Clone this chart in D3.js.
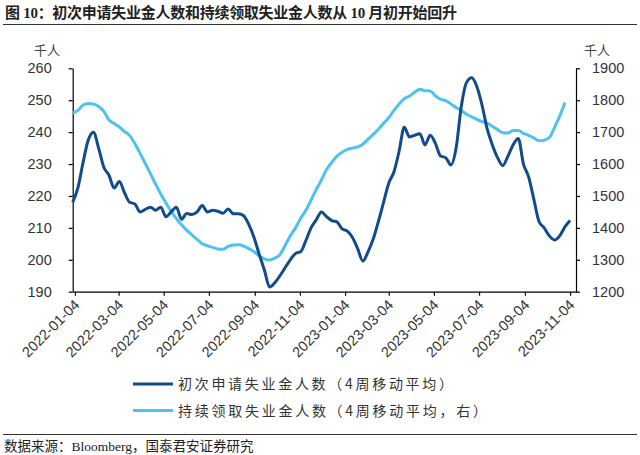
<!DOCTYPE html>
<html>
<head>
<meta charset="utf-8">
<script src="https://cdn.jsdelivr.net/npm/d3@7"></script>
<style>
  body { margin: 0; background: #fff; }
  svg { display: block; }
</style>
</head>
<body>
<div id="chart"></div>
<script>
// weekly data, first week ending 2022-01-01
const startWeek = "2022-01-01";
// initial claims, 4-week average (thousand, left axis)
const initialClaims = [
  218, 222.5, 230.5, 237.5, 240, 235, 229, 226.5, 222.5, 224.5,
  221, 218, 217.5, 215, 215.8, 216.5, 215.5, 216.5, 213.5, 215,
  216.5, 212.7, 214.5, 214.2, 215, 217, 215, 215.5, 215.2, 214.6,
  215.9, 214.4, 214.4, 213.8, 211, 207, 201.7, 196.8, 191.5, 192.8,
  195, 197.5, 200, 202, 202.5, 206, 210, 212.5, 215, 213.5,
  212.3, 211.9, 209.7, 209, 207, 203.5, 199.6, 202.5, 206.5, 212,
  218, 224, 227.5, 234, 241.5, 238.5, 239, 239.5, 236, 239,
  236.5, 232.5, 232, 229.7, 235, 248, 255.5, 257, 254.3, 248.5,
  241, 236, 232, 229.5, 232.5, 236, 238, 230, 226, 219,
  212, 210, 207.5, 206.2, 207.5, 210.3, 212.3
];
// continuing claims, 4-week average (thousand, right axis)
const continuingClaims = [
  1760, 1768, 1785, 1790, 1788, 1780, 1765, 1738, 1727, 1716,
  1702, 1689, 1664, 1634, 1602, 1570, 1537, 1506, 1478, 1452,
  1429, 1410, 1393, 1378, 1364, 1350, 1344, 1339, 1334, 1333,
  1342, 1346, 1347, 1343, 1335, 1325, 1312, 1303, 1299, 1305,
  1316, 1345, 1375, 1400, 1430, 1455, 1487, 1520, 1550, 1583,
  1605, 1625, 1637, 1646, 1650, 1654, 1662, 1678, 1693, 1709,
  1728, 1745, 1768, 1788, 1805, 1813, 1825, 1834, 1830, 1829,
  1814, 1803, 1799, 1788, 1777, 1768, 1756, 1748, 1740, 1733,
  1728, 1718, 1708, 1698, 1697, 1705, 1705, 1696, 1690, 1682,
  1673, 1675, 1683, 1715, 1750, 1793
];
const xTickLabels = [
  "2022-01-04", "2022-03-04", "2022-05-04", "2022-07-04", "2022-09-04", "2022-11-04",
  "2023-01-04", "2023-03-04", "2023-05-04", "2023-07-04", "2023-09-04", "2023-11-04"
];
const leftTicks = [190, 200, 210, 220, 230, 240, 250, 260];
const rightTicks = [1200, 1300, 1400, 1500, 1600, 1700, 1800, 1900];
const seriesNames = ["初次申请失业金人数（4周移动平均）", "持续领取失业金人数（4周移动平均，右）"];
const titleText = "图 10：初次申请失业金人数和持续领取失业金人数从 10 月初开始回升";
const sourceText = "数据来源：Bloomberg，国泰君安证券研究";

const W = 640, H = 455;
const darkBlue = "#124b8c";
const lightBlue = "#4dc2f0";
const textColor = "#333";
const cjk = "'Noto Sans CJK SC', sans-serif";
const latin = "'Liberation Sans', Arial, sans-serif";

const t0 = d3.utcParse("%Y-%m-%d")(startWeek);
const week = i => d3.utcDay.offset(t0, 7 * i);
const dark = initialClaims.map((v, i) => ({date: week(i), v}));
const light = continuingClaims.map((v, i) => ({date: week(i), v}));

const plot = {left: 72.7, right: 576, top: 68.3, bottom: 291.7};

const x = d3.scaleUtc()
  .domain([t0, d3.utcDay.offset(t0, 680)])
  .range([plot.left, plot.right]);
const yL = d3.scaleLinear().domain([190, 260]).range([plot.bottom, plot.top]);
const yR = d3.scaleLinear().domain([1200, 1900]).range([plot.bottom, plot.top]);

const svg = d3.select("#chart").append("svg")
  .attr("width", W)
  .attr("height", H)
  .attr("viewBox", [0, 0, W, H]);

// title + rules
svg.append("text")
  .attr("x", 5).attr("y", 18)
  .attr("font-family", "'Liberation Serif', " + cjk)
  .attr("font-weight", "bold")
  .attr("font-size", 15)
  .attr("fill", "#222")
  .attr("textLength", 452)
  .text(titleText);

svg.append("line")
  .attr("x1", 3).attr("x2", 637).attr("y1", 24.5).attr("y2", 24.5)
  .attr("stroke", "#333").attr("stroke-width", 1);

svg.append("line")
  .attr("x1", 3).attr("x2", 637).attr("y1", 434.5).attr("y2", 434.5)
  .attr("stroke", "#333").attr("stroke-width", 1);

svg.append("text")
  .attr("x", 4).attr("y", 451)
  .attr("font-family", "'Liberation Serif', " + cjk)
  .attr("font-size", 13.5)
  .attr("fill", "#222")
  .text(sourceText);

// axes
const styleAxis = g => {
  g.selectAll("path.domain").attr("stroke", "#000").attr("stroke-width", 1.2);
  g.selectAll(".tick line").attr("stroke", "#000").attr("stroke-width", 1.2);
  g.selectAll(".tick text")
    .attr("font-family", latin)
    .attr("font-size", 14.5)
    .attr("fill", textColor);
};

svg.append("g")
  .attr("transform", `translate(${plot.left},0)`)
  .call(d3.axisLeft(yL).tickValues(leftTicks).tickFormat(d3.format("d"))
    .tickSize(4).tickSizeOuter(0).tickPadding(17))
  .call(styleAxis);

svg.append("g")
  .attr("transform", `translate(${plot.right},0)`)
  .call(d3.axisRight(yR).tickValues(rightTicks).tickFormat(d3.format("d"))
    .tickSize(4).tickSizeOuter(0).tickPadding(12))
  .call(styleAxis);

const parseTick = d3.utcParse("%Y-%m-%d");
svg.append("g")
  .attr("transform", `translate(0,${plot.bottom})`)
  .call(d3.axisBottom(x)
    .tickValues(xTickLabels.map(parseTick))
    .tickFormat(d3.utcFormat("%Y-%m-%d"))
    .tickSize(4).tickSizeOuter(0))
  .call(styleAxis)
  .call(g => g.selectAll(".tick text")
    .attr("text-anchor", "end")
    .attr("dy", null)
    .attr("y", 0)
    .attr("transform", "translate(5,14) rotate(-45)"));

// unit labels
[[47, "千人"], [597, "千人"]].forEach(([cx, t]) => {
  svg.append("text")
    .attr("x", cx).attr("y", 55)
    .attr("text-anchor", "middle")
    .attr("font-family", cjk)
    .attr("font-size", 13)
    .attr("fill", "#444")
    .text(t);
});

// lines
const lineL = d3.line().x(d => x(d.date)).y(d => yL(d.v)).curve(d3.curveMonotoneX);
const lineR = d3.line().x(d => x(d.date)).y(d => yR(d.v)).curve(d3.curveMonotoneX);

svg.append("path")
  .datum(light)
  .attr("fill", "none")
  .attr("stroke", lightBlue)
  .attr("stroke-width", 3)
  .attr("stroke-linejoin", "round")
  .attr("d", lineR);

svg.append("path")
  .datum(dark)
  .attr("fill", "none")
  .attr("stroke", darkBlue)
  .attr("stroke-width", 3)
  .attr("stroke-linejoin", "round")
  .attr("d", lineL);

// legend
const legend = svg.append("g");
[[darkBlue, 384, 275], [lightBlue, 410.5, 309]].forEach(([c, ly, tl], i) => {
  legend.append("line")
    .attr("x1", 133).attr("x2", 173).attr("y1", ly).attr("y2", ly)
    .attr("stroke", c).attr("stroke-width", 3);
  legend.append("text")
    .attr("x", 178).attr("y", ly + 5)
    .attr("font-family", cjk)
    .attr("font-size", 14)
    .attr("fill", textColor)
    .attr("textLength", tl)
    .text(seriesNames[i]);
});
</script>
</body>
</html>
